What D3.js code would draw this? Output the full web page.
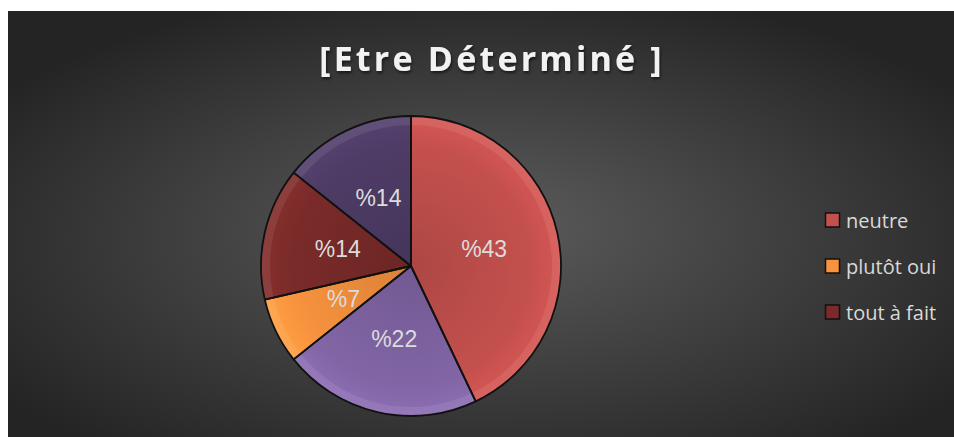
<!DOCTYPE html>
<html>
<head>
<meta charset="utf-8">
<script src="https://cdn.jsdelivr.net/npm/d3@7"></script>
<style>
  html, body { margin: 0; padding: 0; background: #ffffff; }
  svg { display: block; }
</style>
</head>
<body>
<svg id="chart" width="954" height="437"></svg>
<script>
// ---- data ----
const title = "[Etre Déterminé ]";
const categories = ["neutre", "", "plutôt oui", "tout à fait", ""];
const values = [42.9, 21.4, 7.1, 14.3, 14.3];
const labels = ["%43", "%22", "%7", "%14", "%14"];
const colors = ["#c4504d", "#8165a5", "#f7923e", "#7a2b29", "#4e3c66"];

// ---- layout ----
const W = 954, H = 437;
const svg = d3.select("#chart");
const defs = svg.append("defs");

// background gradient
const bg = defs.append("radialGradient").attr("id", "bg")
  .attr("cx", "50%").attr("cy", "55%").attr("r", "62%")
  .attr("fx", "50%").attr("fy", "50%");
bg.append("stop").attr("offset", "0%").attr("stop-color", "#5c5c5c");
bg.append("stop").attr("offset", "100%").attr("stop-color", "#242424");

svg.append("rect").attr("x", 8).attr("y", 11).attr("width", W - 8).attr("height", H - 11)
  .attr("fill", "url(#bg)");

// title shadow filter
const f = defs.append("filter").attr("id", "tshadow").attr("x", "-10%").attr("y", "-30%").attr("width", "120%").attr("height", "160%");
f.append("feDropShadow").attr("dx", 1).attr("dy", 2).attr("stdDeviation", 1.5)
  .attr("flood-color", "#000").attr("flood-opacity", 0.6);

svg.append("text")
  .attr("x", 492).attr("y", 71)
  .attr("text-anchor", "middle")
  .attr("font-family", "'Open Sans', sans-serif")
  .attr("font-weight", "bold")
  .attr("font-size", 34)
  .attr("letter-spacing", 3.2)
  .attr("fill", "#f2f2f2")
  .attr("filter", "url(#tshadow)")
  .text(title);

// ---- pie ----
const cx = 411, cy = 266, R = 150;
const pie = d3.pie().sort(null).value(d => d)(values);
const arc = d3.arc().innerRadius(0).outerRadius(R);
const rim = d3.arc().innerRadius(R - 9).outerRadius(R);
const labelArc = d3.arc().innerRadius(R * 0.5).outerRadius(R * 0.5);

// slice gradients (subtle bevel look)
colors.forEach((c, i) => {
  const g = defs.append("radialGradient").attr("id", "sg" + i)
    .attr("gradientUnits", "userSpaceOnUse")
    .attr("cx", 0).attr("cy", 0).attr("r", R);
  g.append("stop").attr("offset", "0%").attr("stop-color", d3.color(c).darker(0.35));
  g.append("stop").attr("offset", "80%").attr("stop-color", c);
  g.append("stop").attr("offset", "100%").attr("stop-color", d3.color(c).brighter(0.25));
});

const pg = svg.append("g").attr("transform", `translate(${cx},${cy})`);

pg.selectAll("path.slice").data(pie).join("path")
  .attr("class", "slice")
  .attr("d", arc)
  .attr("fill", (d, i) => `url(#sg${i})`);

pg.selectAll("path.rim").data(pie).join("path")
  .attr("class", "rim")
  .attr("d", rim)
  .attr("fill", "#ffffff")
  .attr("fill-opacity", 0.08);

pg.selectAll("path.edge").data(pie).join("path")
  .attr("class", "edge")
  .attr("d", arc)
  .attr("fill", "none")
  .attr("stroke", "#111")
  .attr("stroke-width", 1.8)
  .attr("stroke-linejoin", "round");

pg.selectAll("text.lbl").data(pie).join("text")
  .attr("class", "lbl")
  .attr("transform", d => `translate(${labelArc.centroid(d)})`)
  .attr("text-anchor", "middle")
  .attr("dominant-baseline", "central")
  .attr("font-family", "'Liberation Sans', Arial, sans-serif")
  .attr("font-size", 23)
  .attr("fill", "#dcdcdc")
  .text((d, i) => labels[i]);

// ---- legend ----
const legendItems = categories.map((c, i) => ({ name: c, color: colors[i] })).filter(d => d.name !== "");
const ly = d3.scalePoint().domain(legendItems.map(d => d.name)).range([220, 312]);
const lg = svg.append("g");
const li = lg.selectAll("g").data(legendItems).join("g")
  .attr("transform", d => `translate(825,${ly(d.name)})`);
li.append("rect").attr("x", 0.5).attr("y", -7).attr("width", 14).attr("height", 14)
  .attr("fill", d => d.color).attr("stroke", "#111").attr("stroke-width", 1.5);
li.append("text").attr("x", 21).attr("y", 0)
  .attr("dominant-baseline", "central")
  .attr("font-family", "'Open Sans', sans-serif")
  .attr("font-size", 20)
  .attr("fill", "#d9d9d9")
  .text(d => d.name);
</script>
</body>
</html>
